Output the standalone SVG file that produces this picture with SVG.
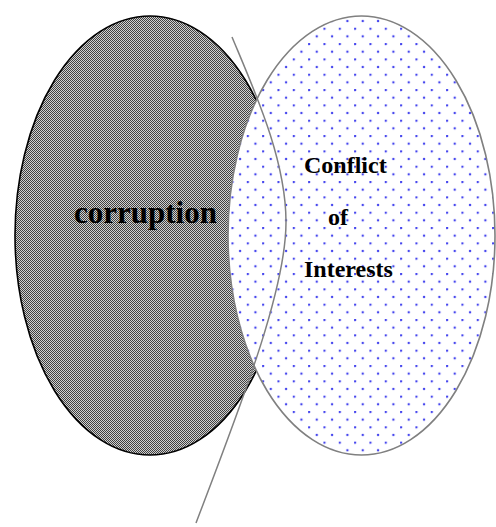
<svg xmlns="http://www.w3.org/2000/svg" width="496" height="527" viewBox="0 0 496 527">
  <defs>
    <pattern id="checker" x="0" y="0" width="2" height="2" patternUnits="userSpaceOnUse">
      <rect x="0" y="0" width="2" height="2" fill="#d0d0d0"/>
      <rect x="0" y="0" width="1" height="1" fill="#404040"/>
      <rect x="1" y="1" width="1" height="1" fill="#404040"/>
    </pattern>
    <pattern id="dots" x="1.5" y="12.4" width="15.33" height="15.33" patternUnits="userSpaceOnUse">
      <rect x="0" y="0" width="15.33" height="15.33" fill="#ffffff"/>
      <circle cx="1" cy="1" r="1.25" fill="#4646ee"/>
      <circle cx="8.65" cy="8.65" r="1.25" fill="#4646ee"/>
    </pattern>
    <style>
      .big { font-family: "Liberation Serif", "Times New Roman", serif; font-weight: bold; font-size: 31px; fill: #000; }
      .lbl { font-family: "Liberation Serif", "Times New Roman", serif; font-weight: bold; font-size: 24px; fill: #000; }
      .conn { fill: none; stroke: #808080; stroke-width: 1.5; }
    </style>
  </defs>
  <rect x="0" y="0" width="496" height="527" fill="#ffffff"/>
  <g id="corruption">
    <ellipse cx="150" cy="235.5" rx="135" ry="219.5" fill="url(#checker)" stroke="#000" stroke-width="1.6"/>
  </g>
  <g id="conflict-of-interests">
    <ellipse cx="361.5" cy="235.5" rx="133.5" ry="219.5" fill="url(#dots)" stroke="#808080" stroke-width="1.6"/>
  </g>
  <g id="connectors">
    <path class="conn" d="M232,37 C255,92 286,160 286,222 C286,290 241.6,403 196,523"/>
  </g>
  <g id="labels">
    <text class="big" x="74" y="223">corruption</text>
    <text class="lbl" x="304" y="173">Conflict</text>
    <text class="lbl" x="328" y="225">of</text>
    <text class="lbl" x="304" y="277">Interests</text>
  </g>
</svg>
